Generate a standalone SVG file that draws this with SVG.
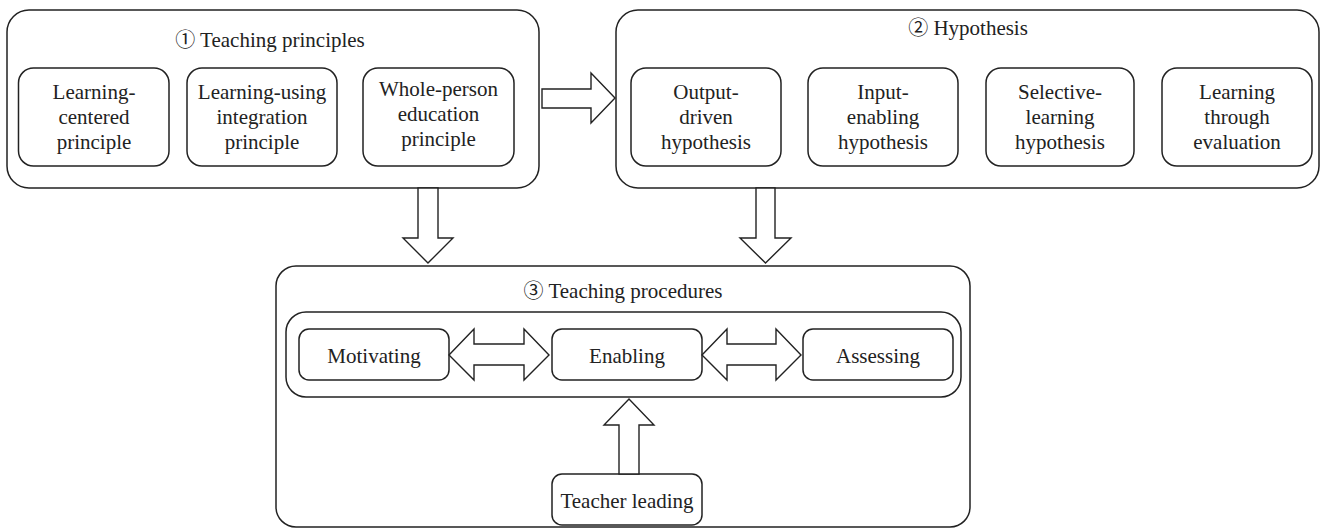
<svg xmlns="http://www.w3.org/2000/svg" width="1322" height="529" viewBox="0 0 1322 529">
<style>
.box{fill:#fff;stroke:#222;stroke-width:1.5}
.frame{fill:none;stroke:#222;stroke-width:1.5}
.arr{fill:#fff;stroke:#222;stroke-width:1.4;stroke-linejoin:miter}
text{font-family:'Liberation Serif','Times New Roman','DejaVu Serif',serif;font-size:21px;fill:#222;text-anchor:middle}
.cj{font-family:'Noto Sans CJK SC','Noto Sans CJK JP',sans-serif;font-size:20px}
</style>
<rect width="1322" height="529" fill="#fff"/>
<g id="principles">
<rect class="box" x="7" y="10" width="532" height="178" rx="22"/>
<text x="270" y="47"><tspan class="cj">①</tspan> Teaching principles</text>
</g>
<g id="learning-centered">
<rect class="box" x="18.5" y="68" width="150.5" height="98" rx="15"/>
<text x="94"><tspan x="94" y="99">Learning-</tspan><tspan x="94" y="124">centered</tspan><tspan x="94" y="149">principle</tspan></text>
</g>
<g id="learning-using">
<rect class="box" x="187" y="68" width="150" height="98" rx="15"/>
<text x="262"><tspan x="262" y="99">Learning-using</tspan><tspan x="262" y="124">integration</tspan><tspan x="262" y="149">principle</tspan></text>
</g>
<g id="whole-person">
<rect class="box" x="363" y="68" width="151" height="98" rx="15"/>
<text x="438.5"><tspan x="438.5" y="96">Whole-person</tspan><tspan x="438.5" y="121">education</tspan><tspan x="438.5" y="146">principle</tspan></text>
</g>
<g id="hypothesis">
<rect class="box" x="616" y="10" width="703" height="178" rx="22"/>
<text x="968" y="35"><tspan class="cj">②</tspan> Hypothesis</text>
</g>
<g id="output-driven">
<rect class="box" x="631" y="68" width="150" height="98" rx="15"/>
<text x="706"><tspan x="706" y="99">Output-</tspan><tspan x="706" y="124">driven</tspan><tspan x="706" y="149">hypothesis</tspan></text>
</g>
<g id="input-enabling">
<rect class="box" x="808" y="68" width="150" height="98" rx="15"/>
<text x="883"><tspan x="883" y="99">Input-</tspan><tspan x="883" y="124">enabling</tspan><tspan x="883" y="149">hypothesis</tspan></text>
</g>
<g id="selective-learning">
<rect class="box" x="986" y="68" width="148" height="98" rx="15"/>
<text x="1060"><tspan x="1060" y="99">Selective-</tspan><tspan x="1060" y="124">learning</tspan><tspan x="1060" y="149">hypothesis</tspan></text>
</g>
<g id="learning-through-evaluation">
<rect class="box" x="1162" y="68" width="150" height="98" rx="15"/>
<text x="1237"><tspan x="1237" y="99">Learning</tspan><tspan x="1237" y="124">through</tspan><tspan x="1237" y="149">evaluation</tspan></text>
</g>
<g id="procedures">
<rect class="box" x="276" y="266" width="694" height="261" rx="20"/>
<text x="623" y="298"><tspan class="cj">③</tspan> Teaching procedures</text>
<rect class="frame" x="286" y="312" width="675" height="85" rx="20"/>
</g>
<g id="motivating">
<rect class="box" x="299" y="329" width="150" height="51" rx="10"/>
<text x="374" y="363">Motivating</text>
</g>
<g id="enabling">
<rect class="box" x="552" y="329" width="150" height="51" rx="10"/>
<text x="627" y="363">Enabling</text>
</g>
<g id="assessing">
<rect class="box" x="803" y="329" width="150" height="51" rx="10"/>
<text x="878" y="363">Assessing</text>
</g>
<g id="teacher-leading">
<rect class="box" x="552" y="474" width="150" height="51" rx="10"/>
<text x="627" y="508">Teacher leading</text>
</g>
<g id="connectors">
<polygon class="arr" points="542,89 591,89 591,73 615,98 591,123 591,108 542,108"/>
<polygon class="arr" points="418,188 438,188 438,238 453,238 428,263 403,238 418,238"/>
<polygon class="arr" points="756,188 775,188 775,238 791,238 765.5,263 740,238 756,238"/>
<polygon class="arr" points="619,474 639,474 639,425 654,425 629,399 604,425 619,425"/>
<polygon class="arr" points="449,355 474,329 474,344 524,344 524,329 549,355 524,380 524,365 474,365 474,380"/>
<polygon class="arr" points="702,355 727,329 727,344 776,344 776,329 801,355 776,380 776,365 727,365 727,380"/>
</g>
</svg>
